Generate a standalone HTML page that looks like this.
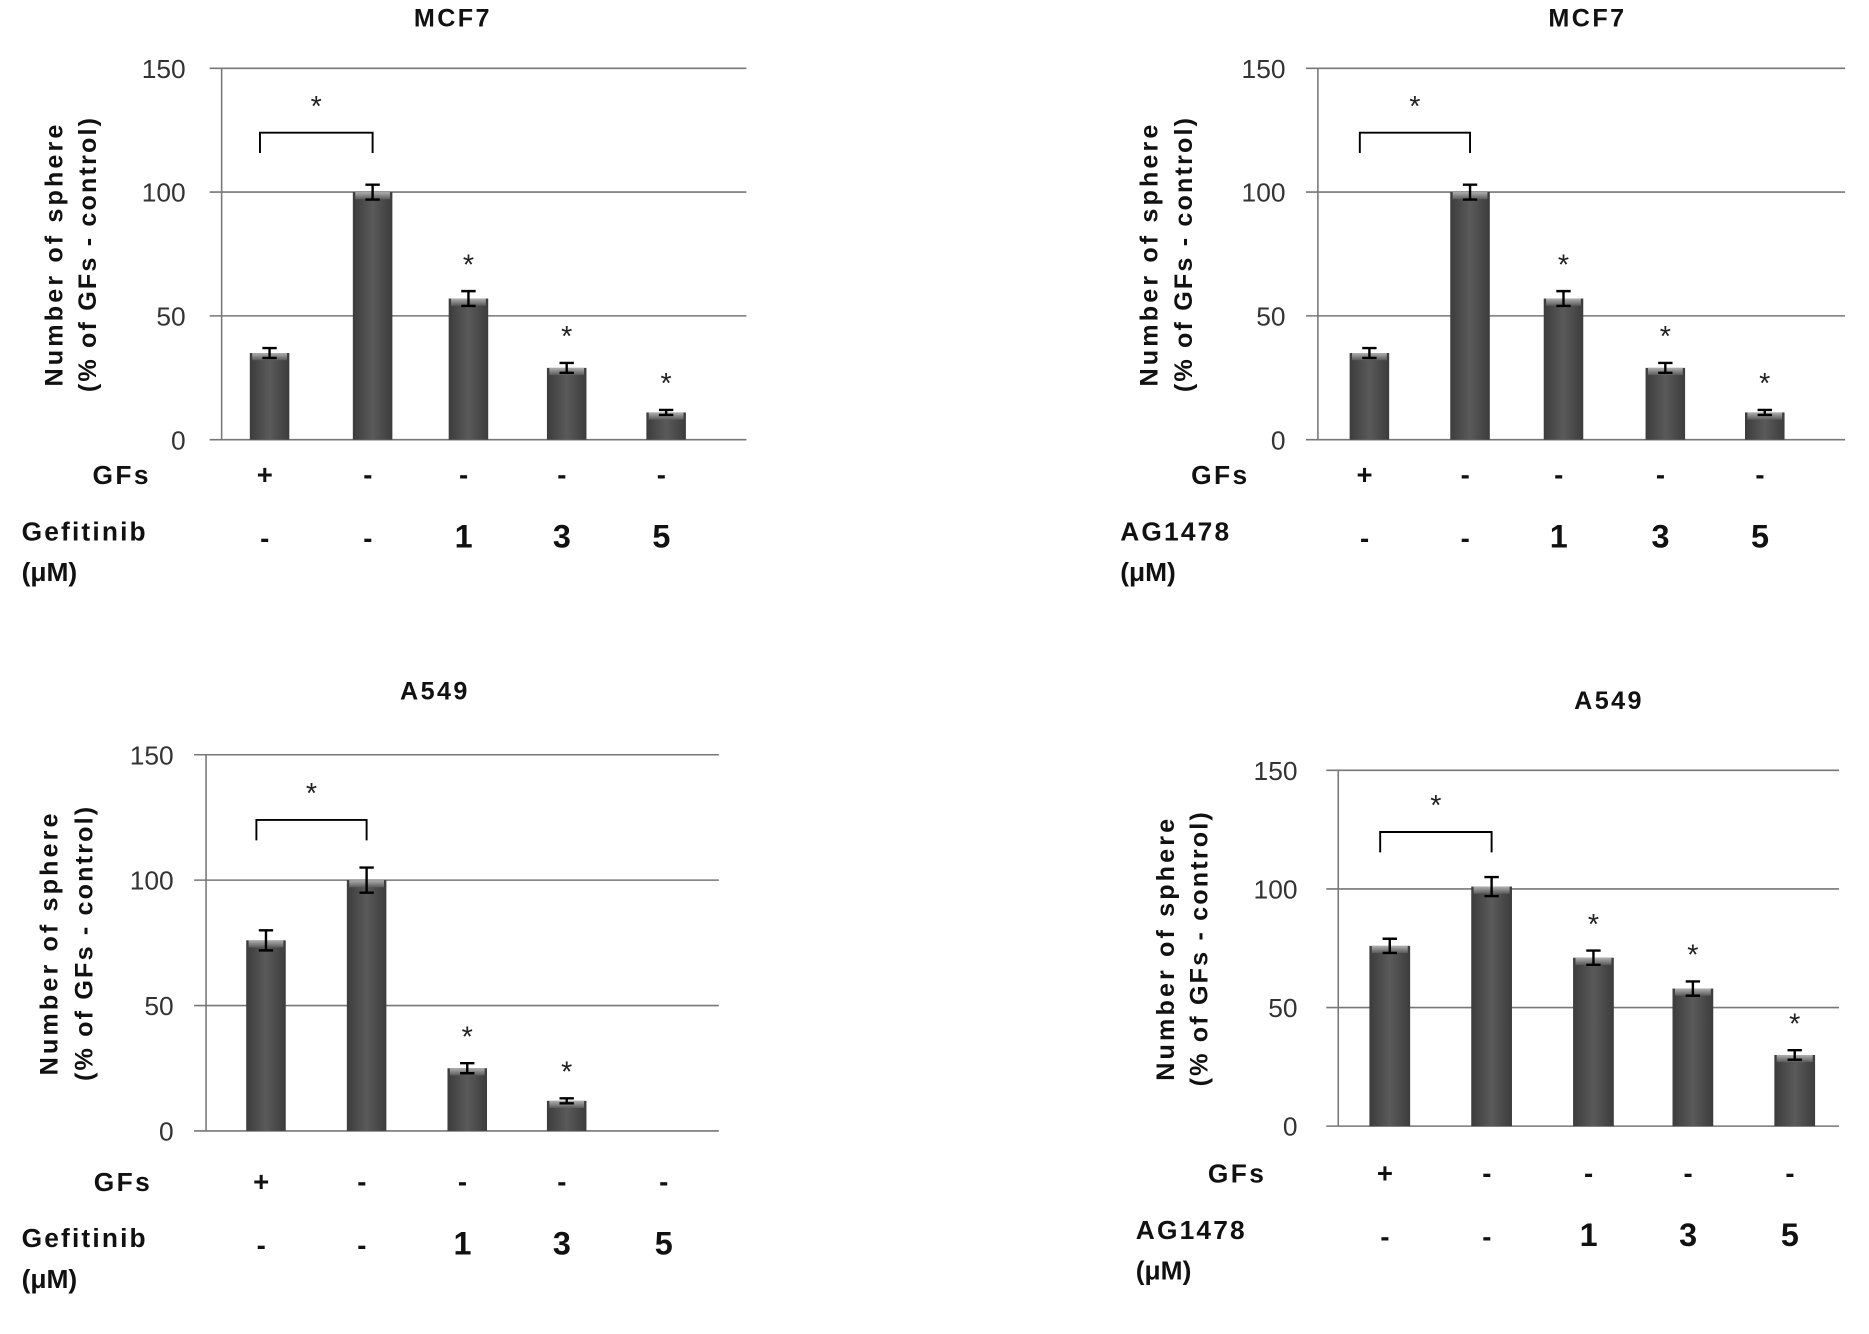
<!DOCTYPE html>
<html><head><meta charset="utf-8"><style>
html,body{margin:0;padding:0;background:#fff}
svg{display:block}
text{font-family:"Liberation Sans",Arial,sans-serif}
</style></head><body>
<svg id="fig" width="1869" height="1334" viewBox="0 0 1560 1113.5" preserveAspectRatio="none" xmlns="http://www.w3.org/2000/svg">
<defs>
<linearGradient id="barg" x1="0" x2="1" y1="0" y2="0">
<stop offset="0" stop-color="#3c3c3c"/><stop offset="0.5" stop-color="#5a5a5a"/><stop offset="1" stop-color="#3c3c3c"/>
</linearGradient>
<linearGradient id="capg" x1="0" x2="0" y1="0" y2="1">
<stop offset="0" stop-color="#b0b0b0"/><stop offset="1" stop-color="#5a5a5a"/>
</linearGradient>
</defs>
</svg>
<script>
// Panel data
const categories = ["GFs+", "GFs-", "1 \u03bcM", "3 \u03bcM", "5 \u03bcM"];
const gfsLabels = ["+", "-", "-", "-", "-"];
const doseLabels = ["-", "-", "1", "3", "5"];
const yTicks = [0, 50, 100, 150];
const mcf7GefValues = [35, 100, 57, 29, 11];
const mcf7GefErrors = [2, 3, 3, 2, 1];
const mcf7AgValues = [35, 100, 57, 29, 11];
const mcf7AgErrors = [2, 3, 3, 2, 1];
const a549GefValues = [76, 100, 25, 12, 0];
const a549GefErrors = [4, 5, 2, 1, 0];
const a549AgValues = [76, 101, 71, 58, 30];
const a549AgErrors = [3, 4, 3, 3, 2];
const mcf7GefStars = [false, false, true, true, true];
const mcf7AgStars = [false, false, true, true, true];
const a549GefStars = [false, false, true, true, false];
const a549AgStars = [false, false, true, true, true];
const bracketValue = 124;

const NS = "http://www.w3.org/2000/svg";
const svg = document.getElementById("fig");
function mk(tag, attrs, parent, txt){
  const e = document.createElementNS(NS, tag);
  for (const k in attrs) e.setAttribute(k, attrs[k]);
  if (txt !== undefined) e.textContent = txt;
  (parent||svg).appendChild(e);
  return e;
}

const panels = [
 {id:"mcf7-gefitinib", title:"MCF7", tx:378, ty:22, left:185, right:623, top:57, bottom:367, centers:[225,311,391,473,556], bw:33,
  vals:mcf7GefValues, errs:mcf7GefErrors, stars:mcf7GefStars, drug:"Gefitinib", tickX:155, ytx:[52,80], gfsY:404, doseY:457, muY:485, gfsLabX:126, drugX:18},
 {id:"mcf7-ag1478", title:"MCF7", tx:1325, ty:22, left:1100, right:1540, top:57, bottom:367, centers:[1143,1227,1305,1390,1473], bw:33,
  vals:mcf7AgValues, errs:mcf7AgErrors, stars:mcf7AgStars, drug:"AG1478", tickX:1073, ytx:[966,995], gfsY:404, doseY:457, muY:485, gfsLabX:1043, drugX:935},
 {id:"a549-gefitinib", title:"A549", tx:363, ty:584, left:172, right:600, top:630, bottom:944, centers:[222,306,390,473,558], bw:33,
  vals:a549GefValues, errs:a549GefErrors, stars:a549GefStars, drug:"Gefitinib", tickX:145, ytx:[48,77], gfsY:994, doseY:1047, muY:1075, gfsLabX:127, drugX:18},
 {id:"a549-ag1478", title:"A549", tx:1343, ty:592, left:1117, right:1535, top:643, bottom:940, centers:[1160,1245,1330,1413,1498], bw:34,
  vals:a549AgValues, errs:a549AgErrors, stars:a549AgStars, drug:"AG1478", tickX:1083, ytx:[980,1008], gfsY:987, doseY:1040, muY:1068, gfsLabX:1057, drugX:948}
];

panels.forEach(p => {
  const g = mk("g", {});
  
  
  const y = v => p.bottom - (v/150)*(p.bottom - p.top);
  const t = mk("text", {x:p.tx, y:p.ty, "text-anchor":"middle", "font-size":21, "font-weight":"bold", "letter-spacing":2, fill:"#111"}, g, p.title);
  
  
  yTicks.forEach(v => {
    const l = mk("line", {x1:p.left-10, x2:p.right, y1:y(v), y2:y(v), stroke:"#777", "stroke-width":1.3}, g);
    
    
    const tl = mk("text", {x:p.tickX, y:y(v)+8, "text-anchor":"end", "font-size":22, fill:"#333"}, g, String(v));
    
    
  });
  const ax = mk("line", {x1:p.left, x2:p.left, y1:p.top, y2:p.bottom, stroke:"#777", "stroke-width":1.3}, g);
  
  
  const cy = (p.top+p.bottom)/2;
  const yt = mk("text", {transform:`translate(${p.ytx[0]},${cy}) rotate(-90)`, "text-anchor":"middle", "font-size":21, "font-weight":"bold", "letter-spacing":2.6, fill:"#111"}, g, "Number of sphere");
  
  
  const yt2 = mk("text", {transform:`translate(${p.ytx[1]},${cy}) rotate(-90)`, "text-anchor":"middle", "font-size":21, "font-weight":"bold", "letter-spacing":1.8, fill:"#111"}, g, "(% of GFs - control)");
  
  
  p.vals.forEach((v, i) => {
    const cx = p.centers[i];
    if (v > 0) {
      const b = mk("rect", {x:cx-p.bw/2, y:y(v), width:p.bw, height:p.bottom-y(v), fill:"url(#barg)"}, g);
      
      
      const cap = mk("rect", {x:cx-p.bw/2+2, y:y(v), width:p.bw-4, height:Math.min(6, p.bottom-y(v)), fill:"url(#capg)"}, g);
      
      
      const e = p.errs[i];
      const eb = mk("path", {d:`M${cx-6},${y(v+e)}H${cx+6}M${cx},${y(v+e)}V${y(v-e)}M${cx-6},${y(v-e)}H${cx+6}`, stroke:"#000", "stroke-width":2, fill:"none"}, g);
      
      
    }
    if (p.stars[i]) {
      const s = mk("text", {x:cx, y:y(v+p.errs[i])-14, "text-anchor":"middle", "font-size":24, fill:"#222"}, g, "*");
      
      
    }
    const gl = mk("text", {x:cx-4, y:p.gfsY, "text-anchor":"middle", "font-size":23, "font-weight":"bold", fill:"#111"}, g, gfsLabels[i]);
    
    
    const dl = mk("text", {x:cx-4, y:p.doseY, "text-anchor":"middle", "font-size":i<2?23:27, "font-weight":"bold", fill:"#111"}, g, doseLabels[i]);
    
    
  });
  const x1 = p.centers[0]-8, x2 = p.centers[1];
  const by = y(bracketValue);
  const br = mk("path", {d:`M${x1},${by+17}V${by}H${x2}V${by+17}`, stroke:"#000", "stroke-width":1.6, fill:"none"}, g);
  
  
  const bs = mk("text", {x:(x1+x2)/2, y:by-14, "text-anchor":"middle", "font-size":24, fill:"#222"}, g, "*");
  
  
  const gfl = mk("text", {x:p.gfsLabX, y:p.gfsY, "text-anchor":"end", "font-size":22, "font-weight":"bold", "letter-spacing":2, fill:"#111"}, g, "GFs");
  
  
  const dr = mk("text", {x:p.drugX, y:p.doseY-6, "font-size":22, "font-weight":"bold", "letter-spacing":1.8, fill:"#111"}, g, p.drug);
  
  
  const mu = mk("text", {x:p.drugX, y:p.muY, "font-size":22, "font-weight":"bold", fill:"#111"}, g, "(\u03bcM)");
  
  
});
</script>
</body></html>
